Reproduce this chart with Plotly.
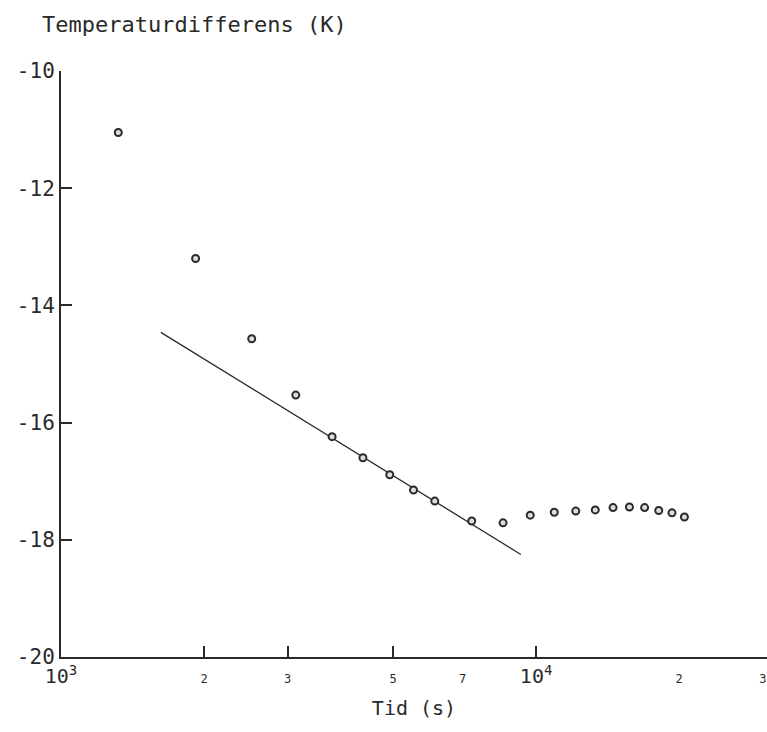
import plotly.graph_objects as go

# Measured points: time (s) and temperature difference (K)
tid = [1320, 1920, 2520, 3120, 3720, 4320, 4920, 5520, 6120, 7320, 8520,
       9720, 10920, 12120, 13320, 14520, 15720, 16920, 18120, 19320, 20520]
temp_diff = [-11.05, -13.20, -14.57, -15.53, -16.24, -16.60, -16.89, -17.15,
             -17.34, -17.68, -17.71, -17.58, -17.53, -17.51, -17.49, -17.45,
             -17.44, -17.45, -17.50, -17.54, -17.61]

# Fitted straight line (in log time)
fit_tid = [1622, 9286]
fit_temp = [-14.46, -18.25]

# Axis ticks
small = "<span style='font-size:12px'>{}</span>"
x_tick_vals = [1000, 2000, 3000, 5000, 7000, 10000, 20000, 30000]
x_tick_text = ["10<sup>3</sup>", small.format("2"), small.format("3"),
               small.format("5"), small.format("7"), "10<sup>4</sup>",
               small.format("2"), small.format("3")]
x_tick_marks = [2000, 3000, 5000, 10000]
y_tick_vals = [-20, -18, -16, -14, -12, -10]
y_tick_text = ["-20", "-18", "-16", "-14", "-12", "-10"]

ink = "#2a2a2a"
font_family = "DejaVu Sans Mono"

fig = go.Figure()
fig.add_trace(go.Scatter(x=fit_tid, y=fit_temp, mode="lines",
                         line=dict(color=ink, width=1.3), showlegend=False,
                         hoverinfo="skip"))
fig.add_trace(go.Scatter(x=tid, y=temp_diff, mode="markers",
                         marker=dict(symbol="circle", size=7, color="#dcdcdc",
                                     line=dict(color=ink, width=2)),
                         showlegend=False))
# invisible trace so the tick-mark axis renders
fig.add_trace(go.Scatter(x=[1000], y=[-20], xaxis="x2", mode="markers",
                         marker=dict(opacity=0), showlegend=False,
                         hoverinfo="skip"))

fig.update_layout(
    width=767, height=732,
    margin=dict(l=61, r=0, t=71, b=75),
    paper_bgcolor="white", plot_bgcolor="white",
    font=dict(family=font_family, color=ink, size=20),
    xaxis=dict(type="log", range=[3, 4.486], showgrid=False, zeroline=False,
               automargin=False,
               showline=True, linecolor=ink, linewidth=2,
               tickmode="array", tickvals=x_tick_vals, ticktext=x_tick_text,
               ticks="", tickfont=dict(size=20, family=font_family, color=ink),
               title=dict(text="Tid (s)", standoff=14,
                          font=dict(size=20, family=font_family, color=ink))),
    xaxis2=dict(type="log", range=[3, 4.486], overlaying="x", showgrid=False,
                zeroline=False, showline=False, tickmode="array",
                automargin=False,
                tickvals=x_tick_marks, ticks="inside", ticklen=11,
                tickwidth=2, tickcolor=ink, showticklabels=False,
                anchor="y", side="bottom"),
    yaxis=dict(range=[-20, -10], showgrid=False, zeroline=False,
               automargin=False,
               showline=True, linecolor=ink, linewidth=2,
               tickmode="array", tickvals=y_tick_vals, ticktext=y_tick_text,
               ticks="inside", ticklen=11, tickwidth=2, tickcolor=ink,
               tickfont=dict(size=21, family=font_family, color=ink)),
    annotations=[dict(text="Temperaturdifferens (K)", xref="paper",
                      yref="paper", x=-0.03, y=1.0, yshift=47,
                      xanchor="left", yanchor="middle", showarrow=False,
                      font=dict(size=22, family=font_family, color=ink))],
)

fig.write_html("out.html",
               config={"displayModeBar": False},
               post_script="document.body.style.margin='0';"
                           "document.body.style.overflow='hidden';")
